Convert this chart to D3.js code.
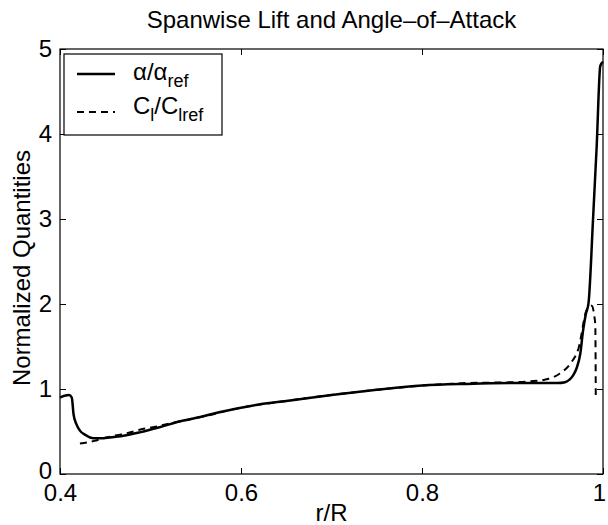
<!DOCTYPE html>
<html>
<head>
<meta charset="utf-8">
<script src="https://cdn.jsdelivr.net/npm/d3@7"></script>
<style>
  body { margin: 0; background: #fff; }
  text { font-family: "Liberation Sans", Arial, sans-serif; fill: #000; }
</style>
</head>
<body>
<div id="chart"></div>
<script>
// values
const alphaX = [0.400, 0.405, 0.410, 0.413, 0.415, 0.418, 0.422, 0.428, 0.437, 0.445, 0.455, 0.470, 0.488, 0.510, 0.533, 0.555, 0.577, 0.600, 0.621, 0.650, 0.700, 0.750, 0.800, 0.850, 0.900, 0.950, 0.958, 0.963, 0.967, 0.971, 0.975, 0.978, 0.981, 0.984, 0.989, 0.993, 0.997, 1.000]
const alphaY = [0.90, 0.92, 0.93, 0.90, 0.70, 0.59, 0.51, 0.46, 0.42, 0.42, 0.43, 0.45, 0.49, 0.55, 0.62, 0.67, 0.73, 0.78, 0.82, 0.86, 0.93, 0.99, 1.04, 1.06, 1.07, 1.07, 1.08, 1.11, 1.16, 1.25, 1.42, 1.69, 1.88, 2.01, 3.00, 3.85, 4.80, 4.85]

const clX = [0.422, 0.430, 0.438, 0.448, 0.460, 0.474, 0.488, 0.507, 0.537, 0.560, 0.600, 0.650, 0.700, 0.750, 0.800, 0.850, 0.900, 0.920, 0.940, 0.952, 0.964, 0.973, 0.982, 0.9875, 0.9905, 0.9915, 0.992]
const clY = [0.36, 0.37, 0.39, 0.42, 0.45, 0.48, 0.52, 0.56, 0.63, 0.68, 0.78, 0.86, 0.93, 0.99, 1.04, 1.07, 1.08, 1.09, 1.12, 1.18, 1.30, 1.48, 1.93, 1.98, 1.85, 1.75, 0.93]

const xTicks = [0.4, 0.6, 0.8, 1]
const yTicks = [0, 1, 2, 3, 4, 5]

const width = 608, height = 525
const margin = {top: 49, right: 5, bottom: 51, left: 60}
const fs = 24

const svg = d3.select('#chart').append('svg')
  .attr('width', width)
  .attr('height', height)

const x = d3.scaleLinear().domain([0.4, 1]).range([margin.left, width - margin.right])
const y = d3.scaleLinear().domain([0, 5]).range([height - margin.bottom, margin.top])

const tickLen = 6

// box
svg.append('rect')
  .attr('x', x(0.4)).attr('y', y(5))
  .attr('width', x(1) - x(0.4)).attr('height', y(0) - y(5))
  .attr('fill', 'none').attr('stroke', '#000').attr('stroke-width', 1.2)

// inward ticks on all four sides
const xAxis = d3.axisBottom(x).tickValues(xTicks).tickSizeInner(-tickLen).tickSizeOuter(0)
  .tickPadding(10).tickFormat(d => d === 1 ? '1' : d3.format('.1f')(d))
const gx = svg.append('g').attr('transform', `translate(0,${y(0)})`).call(xAxis)
svg.append('g').attr('transform', `translate(0,${y(5)})`)
  .call(d3.axisTop(x).tickValues(xTicks).tickSizeInner(-tickLen).tickSizeOuter(0).tickFormat(''))

const yAxis = d3.axisLeft(y).tickValues(yTicks).tickSizeInner(-tickLen).tickSizeOuter(0)
  .tickPadding(8).tickFormat(d3.format('d'))
const gy = svg.append('g').attr('transform', `translate(${x(0.4)},0)`).call(yAxis)
svg.append('g').attr('transform', `translate(${x(1)},0)`)
  .call(d3.axisRight(y).tickValues(yTicks).tickSizeInner(-tickLen).tickSizeOuter(0).tickFormat(''))

svg.selectAll('.domain').remove()
svg.selectAll('.tick line').attr('stroke', '#000').attr('stroke-width', 1)
svg.selectAll('.tick text')
  .style('font-family', '"Liberation Sans", Arial, sans-serif')
  .style('font-size', fs + 'px')
  .attr('fill', '#000')

// keep the last x label inside the page, lift the y "0" a touch
gx.selectAll('.tick text').filter(d => d === 1).attr('dx', -4)
gy.selectAll('.tick text').filter(d => d === 0).attr('dy', '0.2em')

// curves
const line = d3.line()
  .x(d => x(d[0]))
  .y(d => y(d[1]))
  .curve(d3.curveMonotoneX)

const alphaData = alphaX.map((v, i) => [v, alphaY[i]])
const clData = clX.map((v, i) => [v, clY[i]])

svg.append('path')
  .datum(clData)
  .attr('d', line)
  .attr('fill', 'none')
  .attr('stroke', '#000')
  .attr('stroke-width', 2)
  .attr('stroke-dasharray', '7,5')

svg.append('path')
  .datum(alphaData)
  .attr('d', line)
  .attr('fill', 'none')
  .attr('stroke', '#000')
  .attr('stroke-width', 2.5)
  .attr('stroke-linejoin', 'round')

// title and axis labels
svg.append('text')
  .attr('x', (x(0.4) + x(1)) / 2).attr('y', 28)
  .attr('text-anchor', 'middle')
  .style('font-size', fs + 'px')
  .text('Spanwise Lift and Angle\u2013of\u2013Attack')

svg.append('text')
  .attr('x', (x(0.4) + x(1)) / 2).attr('y', 521)
  .attr('text-anchor', 'middle')
  .style('font-size', fs + 'px')
  .text('r/R')

svg.append('text')
  .attr('transform', `translate(30,268) rotate(-90)`)
  .attr('text-anchor', 'middle')
  .style('font-size', fs + 'px')
  .text('Normalized Quantities')

// legend
const leg = svg.append('g')
leg.append('rect')
  .attr('x', 64).attr('y', 54).attr('width', 158).attr('height', 81)
  .attr('fill', '#fff').attr('stroke', '#000').attr('stroke-width', 1.2)

leg.append('line')
  .attr('x1', 77).attr('x2', 115).attr('y1', 74).attr('y2', 74)
  .attr('stroke', '#000').attr('stroke-width', 2.5)
leg.append('line')
  .attr('x1', 77).attr('x2', 115).attr('y1', 112).attr('y2', 112)
  .attr('stroke', '#000').attr('stroke-width', 2).attr('stroke-dasharray', '7,5')

const t1 = leg.append('text').attr('x', 133).attr('y', 80).style('font-size', fs + 'px')
t1.append('tspan').text('\u03b1/\u03b1')
t1.append('tspan').attr('dy', 7).style('font-size', '18px').text('ref')

const t2 = leg.append('text').attr('x', 133).attr('y', 114).style('font-size', fs + 'px')
t2.append('tspan').text('C')
t2.append('tspan').attr('dy', 7).style('font-size', '18px').text('l')
t2.append('tspan').attr('dy', -7).text('/C')
t2.append('tspan').attr('dy', 7).style('font-size', '18px').text('lref')
</script>
</body>
</html>
